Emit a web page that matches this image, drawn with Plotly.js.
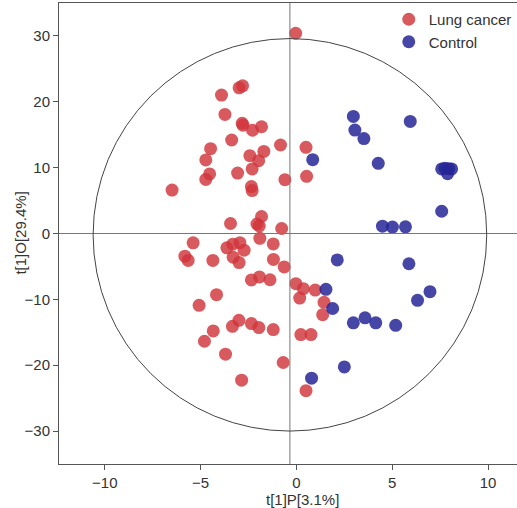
<!DOCTYPE html>
<html>
<head>
<meta charset="utf-8">
<script src="https://cdn.plot.ly/plotly-3.0.1.min.js"></script>
<style>html,body{margin:0;padding:0;background:#fff;}#chart{width:517px;height:508px;}</style>
</head>
<body>
<div id="chart"></div>
<script>
// Lung cancer scores: t[1]P (x) and t[1]O (y)
const cancerX = [-3.91,-2.99,-2.81,-3.73,-2.83,-2.79,-2.29,-1.82,-3.38,-4.48,-4.73,-2.43,-1.97,-4.53,-4.73,-3.07,-2.31,-2.35,-2.31,-6.49,
  -3.44,-1.82,-2.06,-1.94,-0.04,-0.83,0.50,-1.70,-0.60,0.53,-0.77,-1.91,-1.21,-1.20,-0.64,-5.39,-3.63,-3.32,-2.95,-2.73,
  -5.82,-5.65,-4.36,-3.30,-2.99,-2.35,-1.93,-1.38,-4.17,-5.08,-3.00,-3.34,-2.35,-1.96,-1.21,-4.34,-4.80,-3.70,-2.86,-0.03,
  0.36,0.17,0.98,1.44,1.37,0.23,0.76,-0.69,0.50];
const cancerY = [21.02,22.12,22.42,18.08,16.74,16.44,15.68,16.21,14.20,12.88,11.17,11.82,11.06,9.05,8.21,9.17,9.80,7.12,6.52,6.59,
  1.52,2.58,1.44,1.14,30.41,13.44,13.08,12.47,8.18,8.68,0.76,-0.73,-1.59,-3.94,-5.08,-1.41,-2.17,-1.62,-1.39,-2.53,
  -3.45,-4.09,-4.09,-3.59,-4.42,-7.05,-6.59,-7.02,-9.29,-10.91,-13.18,-14.09,-13.68,-14.29,-14.59,-14.80,-16.36,-18.33,-22.27,-7.62,
  -8.38,-9.80,-8.59,-10.45,-12.32,-15.35,-15.35,-19.59,-23.86];
// Control scores
const controlX = [2.97,3.05,3.52,5.94,0.85,4.27,7.58,7.75,7.95,8.10,7.89,7.58,4.49,5.01,5.69,2.13,5.87,6.97,6.32,1.54,
  1.89,2.97,3.58,4.14,5.18,2.50,0.79];
const controlY = [17.77,15.71,14.42,17.02,11.21,10.65,9.80,9.92,9.85,9.80,9.09,3.38,1.11,0.98,1.02,-4.02,-4.59,-8.83,-10.15,-8.48,
  -11.39,-13.56,-12.80,-13.56,-13.94,-20.26,-21.97];
const seriesNames = ["Lung cancer", "Control"];
const xTicks = [-10, -5, 0, 5, 10];
const yTicks = [-30, -20, -10, 0, 10, 20, 30];
const xTitle = "t[1]P[3.1%]";
const yTitle = "t[1]O[29.4%]";

const ell = {cx: -0.34, cy: -0.2, rx: 10.27, ry: 29.8};
const font = "Liberation Sans, Arial, sans-serif";

const traces = [
  {x: cancerX, y: cancerY, name: seriesNames[0], type: 'scatter', mode: 'markers',
   marker: {size: 13, color: 'rgba(208,52,58,0.82)', line: {width: 0}}},
  {x: controlX, y: controlY, name: seriesNames[1], type: 'scatter', mode: 'markers',
   marker: {size: 13, color: 'rgba(38,38,150,0.85)', line: {width: 0}}}
];

const layout = {
  width: 517, height: 508,
  margin: {l: 59, r: 0, t: 3, b: 44},
  paper_bgcolor: '#fff', plot_bgcolor: '#fff',
  font: {family: font, size: 15, color: '#333'},
  showlegend: true,
  legend: {x: 0.72, y: 1.0, xanchor: 'left', yanchor: 'top', bgcolor: 'rgba(0,0,0,0)',
           font: {family: font, size: 15, color: '#333'}, itemsizing: 'trace'},
  xaxis: {range: [-12.39, 11.51], tickvals: xTicks, ticktext: xTicks.map(v => v < 0 ? '\u2212' + Math.abs(v) : String(v)),
          showgrid: false, zeroline: false, showline: true, linecolor: '#555', linewidth: 1, mirror: true,
          ticks: 'outside', ticklen: 5, tickcolor: '#555', tickfont: {size: 15, color: '#333'}},
  yaxis: {range: [-35, 35], tickvals: yTicks, ticktext: yTicks.map(v => v < 0 ? '\u2212' + Math.abs(v) : String(v)),
          showgrid: false, zeroline: false, showline: true, linecolor: '#555', linewidth: 1,
          ticks: 'outside', ticklen: 5, tickcolor: '#555', tickfont: {size: 15, color: '#333'}},
  shapes: [
    {type: 'line', xref: 'paper', x0: 0, x1: 1, yref: 'y', y0: 0, y1: 0, line: {color: '#777', width: 1}},
    {type: 'line', xref: 'x', x0: ell.cx, x1: ell.cx, yref: 'paper', y0: 0, y1: 1, line: {color: '#777', width: 1}},
    {type: 'circle', xref: 'x', yref: 'y', x0: ell.cx - ell.rx, x1: ell.cx + ell.rx, y0: ell.cy - ell.ry, y1: ell.cy + ell.ry,
     line: {color: '#444', width: 1}}
  ],
  annotations: [
    {text: xTitle, xref: 'x', x: 0.3, yref: 'paper', y: -0.077, xanchor: 'center', yanchor: 'middle', showarrow: false,
     font: {family: font, size: 15, color: '#333'}},
    {text: yTitle, xref: 'paper', x: -0.085, yref: 'paper', y: 0.5, xanchor: 'center', yanchor: 'middle', showarrow: false,
     textangle: -90, font: {family: font, size: 15, color: '#333'}},
    {text: '<b>c</b>', xref: 'paper', x: -0.129, yref: 'paper', y: 1.0065, xanchor: 'left', yanchor: 'bottom', showarrow: false,
     font: {family: font, size: 16, color: '#000'}}
  ]
};

Plotly.newPlot('chart', traces, layout, {displayModeBar: false, staticPlot: true});
</script>
</body>
</html>
